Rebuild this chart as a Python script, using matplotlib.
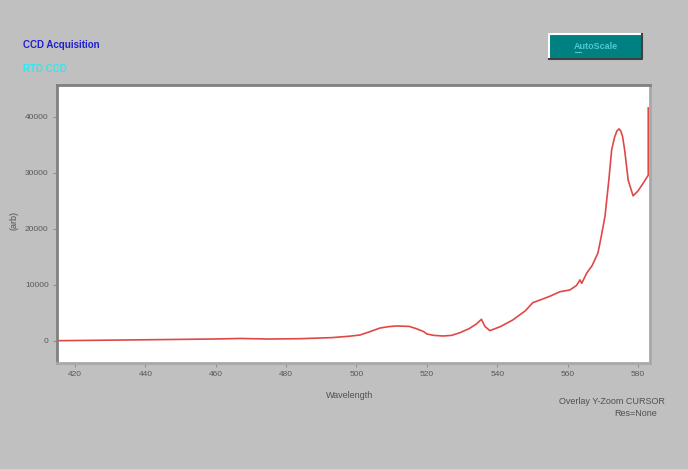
import matplotlib
matplotlib.use("Agg")
import matplotlib.pyplot as plt
from matplotlib.patches import Rectangle
from matplotlib.lines import Line2D

wavelength = [415, 430, 445, 460, 467, 475, 484, 493, 498, 501, 504, 506.6, 509,
              511.4, 515, 517, 519, 520, 522, 524.5, 527, 529.4, 532, 534, 535.5,
              536.5, 537.9, 541, 544.4, 548, 550.1, 552.1, 555, 557.8, 560.6, 562.5,
              563.5, 564, 565.4, 567, 568.6, 569.5, 570.6, 571.7, 572.5, 573.3,
              574.0, 574.6, 575.1, 575.6, 576.2, 577.2, 578.6, 580, 581.5, 582.9,
              582.9]
intensity = [50, 150, 250, 360, 450, 350, 410, 600, 850, 1070, 1700, 2300, 2550,
             2680, 2600, 2200, 1700, 1250, 1000, 890, 1000, 1480, 2200, 3000, 3870,
             2600, 1840, 2600, 3750, 5400, 6840, 7300, 8000, 8800, 9100, 9900,
             10900, 10300, 12100, 13500, 15700, 18500, 22200, 28700, 34100, 36300,
             37500, 37860, 37500, 36500, 34100, 28700, 25900, 26800, 28200, 29600,
             41600]
xticks = [420, 440, 460, 480, 500, 520, 540, 560, 580]
yticks = [0, 10000, 20000, 30000, 40000]

W, H = 688, 469
fig = plt.figure(figsize=(W / 100, H / 100), dpi=100, facecolor="#c0c0c0")
plt.rcParams['font.family'] = ['Liberation Sans', 'DejaVu Sans']

ax = fig.add_axes([57 / W, 1 - 363 / H, (650 - 57) / W, (363 - 85) / H])
ax.set_facecolor("white")
ax.plot(wavelength, intensity, color="#e04848", lw=1.2)
ax.set_xlim(414.9, 583.4)
ax.set_ylim(-3930, 45700)
ax.set_xticks(xticks)
ax.set_yticks(yticks)
ax.set_xticklabels([str(v) for v in xticks])
ax.set_yticklabels([str(v) for v in yticks])
ax.tick_params(axis="both", direction="out", length=3, width=0.8, colors="#909090",
               labelcolor="#585858", labelsize=6, pad=3)
for side in ["left", "top"]:
    ax.spines[side].set_color("#808080")
    ax.spines[side].set_linewidth(2)
for side in ["right", "bottom"]:
    ax.spines[side].set_color("#a8a8a8")
    ax.spines[side].set_linewidth(2)

fig.text(350 / W, 1 - 395 / H, "Wavelength", ha="center", va="center",
         fontsize=6.5, color="#505050")
fig.text(14 / W, 1 - 220 / H, "(arb)", ha="center", va="center", rotation=90,
         fontsize=6.5, color="#505050")
fig.text(665 / W, 1 - 401 / H, "Overlay Y-Zoom CURSOR", ha="right", va="center",
         fontsize=6.5, color="#505050")
fig.text(657 / W, 1 - 413 / H, "Res=None", ha="right", va="center",
         fontsize=6.5, color="#505050")

fig.text(23 / W, 1 - 45 / H, "CCD Acquisition", ha="left", va="center",
         fontsize=7, fontweight="bold", color="#2020d0")
fig.text(23 / W, 1 - 69 / H, "RTD CCD", ha="left", va="center",
         fontsize=7, fontweight="bold", color="#30e8f0")

# AutoScale button
bx0, by0, bx1, by1 = 549, 34, 642, 59
fig.add_artist(Rectangle((bx0 / W, 1 - by1 / H), (bx1 - bx0) / W, (by1 - by0) / H,
                         transform=fig.transFigure, facecolor="#008080",
                         edgecolor="none"))
fig.add_artist(Line2D([bx0 / W, bx0 / W, bx1 / W], [1 - by1 / H, 1 - by0 / H, 1 - by0 / H],
                      transform=fig.transFigure, color="white", lw=1.5))
fig.add_artist(Line2D([bx0 / W, bx1 / W, bx1 / W], [1 - by1 / H, 1 - by1 / H, 1 - by0 / H],
                      transform=fig.transFigure, color="#404040", lw=1.5))
fig.text((bx0 + bx1) / 2 / W, 1 - 46.5 / H, "AutoScale", ha="center", va="center",
         fontsize=6.5, fontweight="bold", color="#50c8d0")
fig.add_artist(Line2D([574.5 / W, 580.5 / W], [1 - 51.5 / H, 1 - 51.5 / H],
                      transform=fig.transFigure, color="#50c8d0", lw=0.8))

fig.savefig("out.png", dpi=100, facecolor=fig.get_facecolor())
